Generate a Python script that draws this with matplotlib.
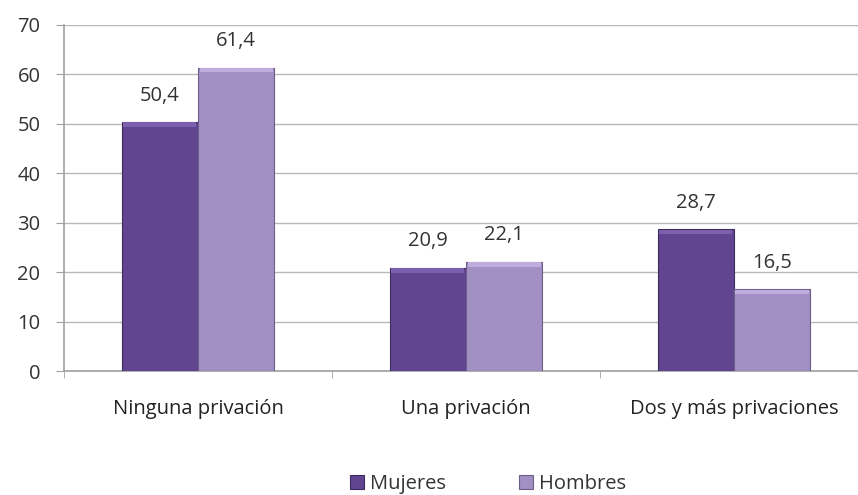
import matplotlib
matplotlib.use("Agg")
import matplotlib.pyplot as plt
import numpy as np

categories = ["Ninguna privación", "Una privación", "Dos y más privaciones"]
mujeres = [50.4, 20.9, 28.7]
hombres = [61.4, 22.1, 16.5]
yticks = [0, 10, 20, 30, 40, 50, 60, 70]

plt.rcParams['font.family'] = ['Open Sans', 'DejaVu Sans']

fig = plt.figure(figsize=(8.58, 4.95), dpi=100)
# plot area runs a little past the right edge of the figure
ax = fig.add_axes([0.0746, 0.2505, 0.937, 0.699])

x = np.arange(len(categories))
w = 0.285
b1 = ax.bar(x - w / 2, mujeres, w, color="#624591", edgecolor="#3e2a5c", linewidth=0.8, label="Mujeres", zorder=3)
b2 = ax.bar(x + w / 2, hombres, w, color="#a28fc3", edgecolor="#6e5e8a", linewidth=0.8, label="Hombres", zorder=3)

# lighter bevel strip on top of each bar
for vals, xs, c in ((mujeres, x - w / 2, "#7d60ad"), (hombres, x + w / 2, "#bfaedd")):
    for xi, v in zip(xs, vals):
        ax.bar(xi, 0.9, w * 0.96, bottom=v - 1.0, color=c, linewidth=0, zorder=4)

# value labels above each bar
for bars, vals in ((b1, mujeres), (b2, hombres)):
    for rect, v in zip(bars, vals):
        ax.text(rect.get_x() + rect.get_width() / 2, v + 3.3, f"{v:.1f}".replace(".", ","),
                ha="center", va="bottom", fontsize=14.5, color="#333333")

ax.set_xlim(-0.5, 2.5)
ax.set_ylim(0, 70)
ax.set_yticks(yticks)
ax.tick_params(axis="y", labelsize=14.5, labelcolor="#333333", length=6, color="#a0a0a0", pad=11)
ax.grid(axis="y", color="#b8b8b8", linewidth=1, zorder=0)

ax.set_xticks(x)
ax.set_xticklabels(categories, fontsize=14.5, color="#222222")
ax.tick_params(axis="x", length=0, pad=20)
ax.set_xticks([-0.5, 0.5, 1.5, 2.5], minor=True)
ax.tick_params(axis="x", which="minor", length=5, color="#a0a0a0")

for s in ("top", "right"):
    ax.spines[s].set_visible(False)
for s in ("left", "bottom"):
    ax.spines[s].set_color("#a0a0a0")
    ax.spines[s].set_linewidth(1.2)

fig.legend(handles=[b1, b2], labels=["Mujeres", "Hombres"], loc="center", bbox_to_anchor=(0.569, 0.022),
           ncol=2, frameon=False, fontsize=14.5, handlelength=0.7, handleheight=0.7,
           columnspacing=3.6, handletextpad=0.3, labelcolor="#333333")

fig.savefig("out.png", dpi=100)
